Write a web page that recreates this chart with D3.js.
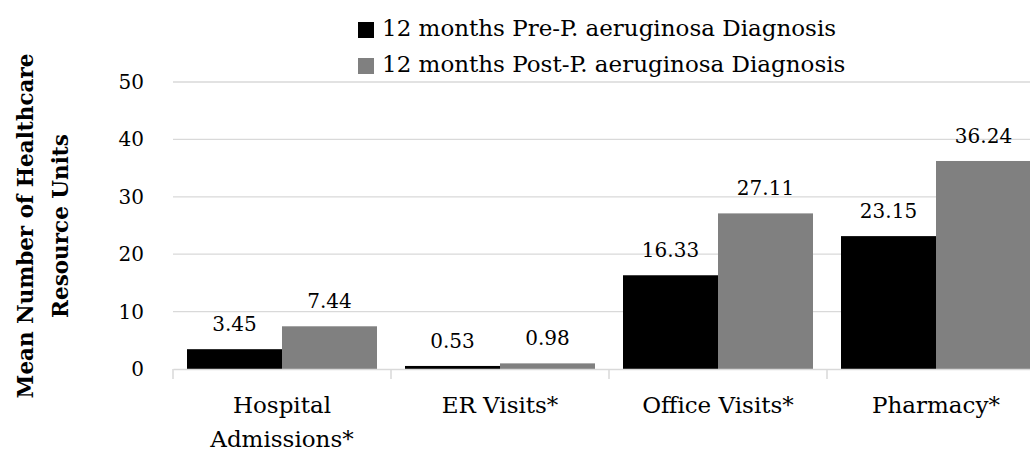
<!DOCTYPE html>
<html>
<head>
<meta charset="utf-8">
<script src="https://cdn.jsdelivr.net/npm/d3@7"></script>
<style>
  body { margin: 0; background: #fff; }
  svg text { font-family: "DejaVu Serif", serif; fill: #000; }
</style>
</head>
<body>
<div id="chart"></div>
<script>
var categories = [["Hospital", "Admissions*"], ["ER Visits*"], ["Office Visits*"], ["Pharmacy*"]];
var seriesNames = ["12 months Pre-P. aeruginosa Diagnosis", "12 months Post-P. aeruginosa Diagnosis"];
var preValues = [3.45, 0.53, 16.33, 23.15];
var postValues = [7.44, 0.98, 27.11, 36.24];
var yTicks = [0, 10, 20, 30, 40, 50];
var colors = ["#000000", "#808080"];

function start(){
    var width = 1030, height = 455;
    var margin = {top: 82, right: -15, bottom: 86, left: 173};
    var numSize = "20px";
    var textSize = "23px";

    var svg = d3.select("#chart").append("svg")
                .attr("width", width)
                .attr("height", height);

    var rows = categories.map(function(c, i){
        return {key: i, label: c, values: [preValues[i], postValues[i]]};
    });

    var x = d3.scaleBand()
              .domain(rows.map(d => d.key))
              .range([margin.left, width - margin.right])
              .paddingInner(0)
              .paddingOuter(0);

    var inner = d3.scaleBand()
                  .domain([0, 1])
                  .range([14, x.bandwidth() - 14]);

    var y = d3.scaleLinear()
              .domain([0, 50])
              .range([height - margin.bottom, margin.top]);

    // gridlines
    svg.append("g")
       .selectAll("line")
       .data(yTicks.filter(t => t > 0))
       .enter().append("line")
       .attr("x1", margin.left)
       .attr("x2", width)
       .attr("y1", d => y(d))
       .attr("y2", d => y(d))
       .attr("stroke", "#d9d9d9")
       .attr("stroke-width", 1.3);

    // y tick labels
    svg.append("g")
       .selectAll("text")
       .data(yTicks)
       .enter().append("text")
       .attr("x", 144)
       .attr("y", d => y(d) + 7)
       .attr("text-anchor", "end")
       .style("font-size", numSize)
       .text(d => d);

    // bars
    var groups = svg.append("g")
       .selectAll("g")
       .data(rows)
       .enter().append("g")
       .attr("transform", d => "translate(" + x(d.key) + ",0)");

    groups.selectAll("rect")
       .data(d => d.values.map((v, j) => ({j: j, v: v})))
       .enter().append("rect")
       .attr("x", d => inner(d.j))
       .attr("y", d => y(d.v))
       .attr("width", inner.bandwidth())
       .attr("height", d => y(0) - y(d.v))
       .attr("fill", d => colors[d.j]);

    groups.selectAll("text.val")
       .data(d => d.values.map((v, j) => ({j: j, v: v})))
       .enter().append("text")
       .attr("class", "val")
       .attr("x", d => inner(d.j) + inner.bandwidth() / 2)
       .attr("y", d => y(d.v) - 18)
       .attr("text-anchor", "middle")
       .style("font-size", numSize)
       .text(d => d.v.toFixed(2));

    // x axis
    var xAxis = svg.append("g")
       .attr("transform", "translate(0," + y(0) + ")")
       .call(d3.axisBottom(x).tickSize(0).tickFormat(""));
    xAxis.select(".domain").attr("stroke", "#d9d9d9").attr("stroke-width", 1.5);

    svg.append("g")
       .selectAll("line")
       .data(rows.map(d => x(d.key)))
       .enter().append("line")
       .attr("x1", d => d).attr("x2", d => d)
       .attr("y1", y(0)).attr("y2", y(0) + 10)
       .attr("stroke", "#d9d9d9")
       .attr("stroke-width", 1.5);

    groups.append("text")
       .attr("x", x.bandwidth() / 2)
       .attr("y", 413)
       .attr("text-anchor", "middle")
       .style("font-size", textSize)
       .selectAll("tspan")
       .data(d => d.label)
       .enter().append("tspan")
       .attr("x", x.bandwidth() / 2)
       .attr("dy", (d, i) => i == 0 ? 0 : 34)
       .text(d => d);

    // y axis title
    svg.append("text")
       .attr("transform", "translate(33,226) rotate(-90)")
       .attr("text-anchor", "middle")
       .style("font-size", "21.5px")
       .style("font-weight", "bold")
       .selectAll("tspan")
       .data(["Mean Number of Healthcare", "Resource Units"])
       .enter().append("tspan")
       .attr("x", 0)
       .attr("dy", (d, i) => i == 0 ? 0 : 35)
       .text(d => d);

    // legend
    var legend = svg.append("g")
       .selectAll("g")
       .data(seriesNames)
       .enter().append("g")
       .attr("transform", (d, i) => "translate(358," + (22 + i * 36) + ")");
    legend.append("rect")
       .attr("width", 16).attr("height", 16)
       .attr("fill", (d, i) => colors[i]);
    legend.append("text")
       .attr("x", 24)
       .attr("y", 14)
       .style("font-size", textSize)
       .text(d => d);
}

start();
</script>
</body>
</html>
